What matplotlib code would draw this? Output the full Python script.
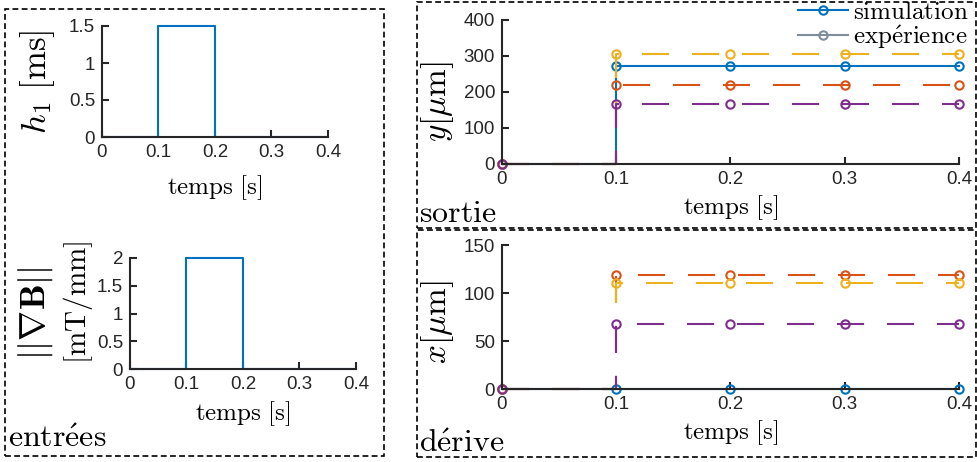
import matplotlib
matplotlib.use("Agg")
import matplotlib.pyplot as plt
from matplotlib.patches import Rectangle
from matplotlib.lines import Line2D
from matplotlib.ticker import FuncFormatter

plt.rcParams["mathtext.fontset"] = "cm"
plt.rcParams["font.family"] = ["Liberation Sans", "DejaVu Sans"]

# entrées
t_in = [0, 0.1, 0.1, 0.2, 0.2, 0.4]
h1 = [0, 0, 1.5, 1.5, 0, 0]
gradB = [0, 0, 2, 2, 0, 0]

# sorties (step at t = 0.1)
t_out = [0, 0.1, 0.1, 0.2, 0.3, 0.4]
y_sim = [0, 0, 272, 272, 272, 272]
y_orange = [0, 0, 220, 220, 220, 220]
y_yellow = [0, 0, 305, 305, 305, 305]
y_purple = [0, 0, 168, 168, 168, 168]

x_sim = [0, 0, 0, 0, 0, 0]
x_orange = [0, 0, 119, 119, 119, 119]
x_yellow = [0, 0, 110, 110, 110, 110]
x_purple = [0, 0, 68, 68, 68, 68]

xticks = [0, 0.1, 0.2, 0.3, 0.4]

blue = "#0072BD"
orange = "#D95319"
yellow = "#EDB120"
purple = "#7E2F8E"
gray = "#7f8c99"
axcol = "#262626"

W, H = 978, 462
fig = plt.figure(figsize=(W / 100, H / 100), dpi=100)


def px_axes(x0, x1, y0, y1):
    # pixel box (top-left origin) -> figure fraction
    return fig.add_axes([x0 / W, 1 - y1 / H, (x1 - x0) / W, (y1 - y0) / H])


def style(ax, yticks):
    for s in ["top", "right"]:
        ax.spines[s].set_visible(False)
    for s in ["left", "bottom"]:
        ax.spines[s].set_linewidth(1.5)
        ax.spines[s].set_color(axcol)
    ax.set_xlim(0, 0.4)
    ax.set_xticks(xticks)
    ax.set_yticks(yticks)
    ax.set_ylim(yticks[0], yticks[-1])
    ax.xaxis.set_major_formatter(FuncFormatter(lambda v, p: "%g" % v))
    ax.yaxis.set_major_formatter(FuncFormatter(lambda v, p: "%g" % v))
    ax.tick_params(direction="in", length=5, width=1.5, color=axcol,
                   labelsize=13.5, labelcolor=axcol, pad=5)
    ax.set_xlabel(r"$\mathrm{temps\ [s]}$", fontsize=18)


ax1 = px_axes(102, 328, 26, 137)
ax1.plot(t_in, h1, color=blue, lw=1.5, clip_on=False)
style(ax1, [0, 0.5, 1, 1.5])
ax1.set_ylabel(r"$h_1\ [\mathrm{ms}]$", fontsize=25)
ax1.yaxis.set_label_coords(-0.2, 0.5)
ax1.xaxis.set_label_coords(0.5, -0.33)

ax2 = px_axes(130, 356, 258, 369)
ax2.plot(t_in, gradB, color=blue, lw=1.5, clip_on=False)
style(ax2, [0, 0.5, 1, 1.5, 2])
ax2.set_ylabel(r"$[\mathrm{mT/mm}]$", fontsize=21)
ax2.yaxis.set_label_coords(-0.155, 0.6)
ax2.text(-0.33, 0.5, r"$||\nabla\mathbf{B}||$", fontsize=26, rotation=90,
         transform=ax2.transAxes, ha="right", va="center")
ax2.xaxis.set_label_coords(0.5, -0.27)

mk = dict(marker="o", markersize=6, markerfacecolor="none", markeredgewidth=1.5,
          markevery=[0, 2, 3, 4, 5], lw=1.5, clip_on=False)
dash = (0, (13, 11))

ax3 = px_axes(502, 959, 20, 164)
ax3.plot(t_out, y_sim, color=blue, **mk)
ax3.plot(t_out, y_orange, color=orange, linestyle=dash, **mk)
ax3.plot(t_out, y_yellow, color=yellow, linestyle=dash, **mk)
ax3.plot(t_out, y_purple, color=purple, linestyle=dash, **mk)
style(ax3, [0, 100, 200, 300, 400])
ax3.set_ylabel(r"$y[\mu\mathrm{m}]$", fontsize=24)
ax3.yaxis.set_label_coords(-0.1, 0.43)
ax3.xaxis.set_label_coords(0.5, -0.2)

ax4 = px_axes(502, 959, 245, 389)
ax4.plot(t_out, x_sim, color=blue, **mk)
ax4.plot(t_out, x_orange, color=orange, linestyle=dash, **mk)
ax4.plot(t_out, x_yellow, color=yellow, linestyle=dash, **mk)
ax4.plot(t_out, x_purple, color=purple, linestyle=dash, **mk)
style(ax4, [0, 50, 100, 150])
ax4.set_ylabel(r"$x[\mu\mathrm{m}]$", fontsize=24)
ax4.yaxis.set_label_coords(-0.1, 0.46)
ax4.xaxis.set_label_coords(0.5, -0.2)

# dashed frames
for (x0, y0, x1, y1) in [(5, 9, 384, 456), (417, 2, 976, 228), (417, 230, 976, 457)]:
    fig.add_artist(Rectangle((x0 / W, 1 - y1 / H), (x1 - x0) / W, (y1 - y0) / H,
                             transform=fig.transFigure, fill=False, lw=1.2,
                             linestyle=(0, (3.5, 2)), edgecolor="black"))

fig.text(8 / W, 1 - 447 / H, r"$\mathrm{entr\acute{e}es}$", fontsize=23, va="baseline")
fig.text(419 / W, 1 - 222 / H, r"$\mathrm{sortie}$", fontsize=23, va="baseline")
fig.text(419 / W, 1 - 452 / H, r"$\mathrm{d\acute{e}rive}$", fontsize=23, va="baseline")

handles = [Line2D([], [], color=blue, lw=1.5, marker="o", markersize=6,
                  markerfacecolor="none", markeredgewidth=1.5),
           Line2D([], [], color=gray, lw=1.5, marker="o", markersize=6,
                  markerfacecolor="none", markeredgewidth=1.5)]
fig.legend(handles, [r"$\mathrm{simulation}$", r"$\mathrm{exp\acute{e}rience}$"],
           loc="upper right", bbox_to_anchor=(968 / W, 1.0), frameon=False,
           fontsize=18, borderpad=0, handlelength=2.0, handletextpad=0.2,
           labelspacing=-0.05, borderaxespad=0)

fig.savefig("out.png", dpi=100)
